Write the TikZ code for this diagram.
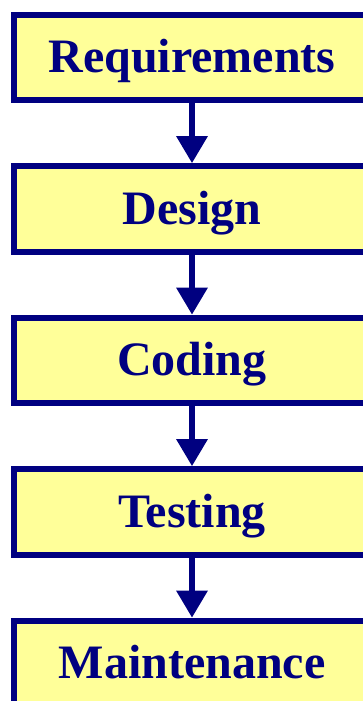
\documentclass[tikz,border=0pt]{standalone}
\usepackage{fontspec}
\setmainfont{Liberation Serif}
\usetikzlibrary{arrows.meta}
\definecolor{navyline}{HTML}{000080}
\definecolor{paleyellow}{HTML}{FFFF99}
\tikzset{
  phasebox/.style={draw=navyline, fill=paleyellow, line width=6pt,
    minimum width=356pt, minimum height=85.6pt, inner sep=0pt,
    text height=30.4pt, text depth=0pt, text=navyline,
    font=\fontsize{48}{50}\selectfont\bfseries},
  flowarrow/.style={draw=navyline, line width=6pt,
    -{Triangle[width=30pt,length=27pt]}, shorten >=0pt}
}
\begin{document}
\begin{tikzpicture}[x=1pt,y=1pt]
\useasboundingbox (0,0) rectangle (363,-701);
\clip (0,0) rectangle (363,-701);
\node[phasebox] (req) at (192,-57.5) {Requirements};
\node[phasebox] (des) at (192,-209) {Design};
\node[phasebox] (cod) at (192,-360.5) {Coding};
\node[phasebox] (tst) at (192,-512) {Testing};
\node[phasebox] (mnt) at (192,-663.5) {Maintenance};
\draw[flowarrow] (req.south) -- (des.north);
\draw[flowarrow] (des.south) -- (cod.north);
\draw[flowarrow] (cod.south) -- (tst.north);
\draw[flowarrow] (tst.south) -- (mnt.north);
\end{tikzpicture}
\end{document}
